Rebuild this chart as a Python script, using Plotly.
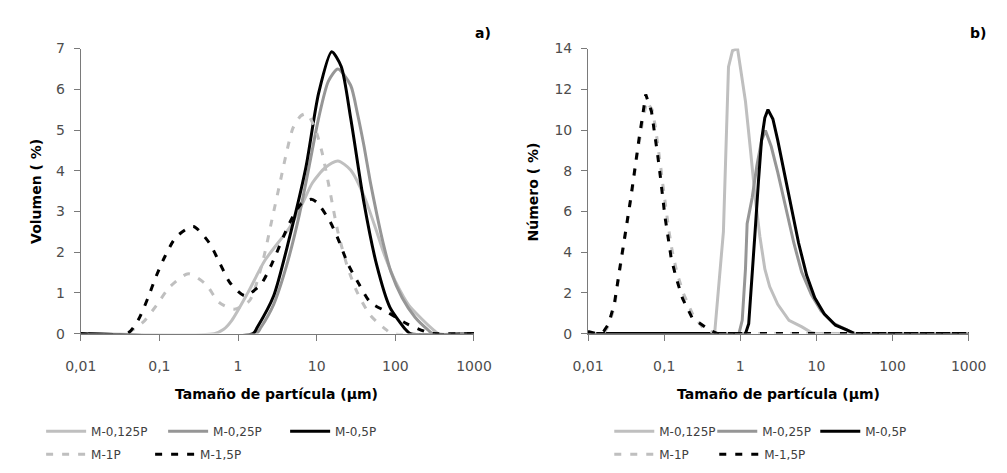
import plotly.graph_objects as go

# ---------------- data: a) volume distribution ----------------
series_names = ["M-0,125P", "M-0,25P", "M-0,5P", "M-1P", "M-1,5P"]

vol_m0125_x = [0.01, 0.5, 0.65, 0.83, 1.33, 2.2, 4.5, 6.6, 8.8, 12.9, 18.6, 27, 40, 58, 70, 85, 102, 148, 217, 302, 350, 1000]
vol_m0125_y = [0, 0, 0.1, 0.32, 1.0, 1.8, 2.6, 3.2, 3.7, 4.08, 4.24, 4.02, 3.38, 2.5, 2.02, 1.6, 1.25, 0.7, 0.36, 0.1, 0, 0]

vol_m025_x = [0.01, 1.7, 1.95, 2.84, 4.14, 6.03, 8.0, 10.6, 14.1, 18.6, 27, 33, 40, 48, 58, 70, 88, 122, 178, 260, 300, 1000]
vol_m025_y = [0, 0, 0.15, 0.72, 1.67, 2.93, 4.1, 5.3, 6.2, 6.5, 6.1, 5.4, 4.6, 3.73, 2.94, 2.22, 1.51, 0.88, 0.4, 0.09, 0, 0]

vol_m05_x = [0.01, 1.55, 1.75, 2.84, 4.5, 7.3, 10.6, 15.5, 20.5, 27, 40, 58, 85, 112, 135, 155, 1000]
vol_m05_y = [0, 0, 0.15, 0.93, 2.35, 4.09, 5.91, 6.92, 6.56, 5.3, 3.2, 1.68, 0.65, 0.3, 0.1, 0, 0]

vol_m1_x = [0.01, 0.037, 0.062, 0.093, 0.136, 0.233, 0.39, 0.57, 0.9, 1.4, 2.04, 2.7, 3.5, 4.14, 5.0, 6.3, 7.5, 9.5, 11.7, 14.8, 18.6, 24.8, 33, 48, 77, 90, 1000]
vol_m1_y = [0, 0, 0.28, 0.71, 1.15, 1.47, 1.21, 0.77, 0.6, 0.81, 1.74, 2.8, 3.8, 4.45, 5.05, 5.35, 5.4, 5.05, 4.45, 3.48, 2.5, 1.62, 1.0, 0.45, 0.09, 0, 0]

vol_m15_x = [0.01, 0.039, 0.054, 0.072, 0.091, 0.118, 0.163, 0.27, 0.43, 0.59, 0.79, 1.22, 1.95, 2.7, 4.5, 6.3, 8.5, 10.1, 14.8, 19.6, 24.8, 34.6, 48, 77, 141, 263, 300, 1000]
vol_m15_y = [0, 0, 0.34, 0.89, 1.41, 1.9, 2.37, 2.63, 2.23, 1.72, 1.25, 0.93, 1.21, 1.72, 2.71, 3.18, 3.3, 3.22, 2.75, 2.23, 1.72, 1.21, 0.77, 0.54, 0.24, 0.02, 0, 0]

# ---------------- data: b) number distribution ----------------
num_m0125_x = [0.01, 0.46, 0.60, 0.70, 0.79, 0.92, 1.01, 1.17, 1.36, 1.57, 1.81, 2.1, 2.43, 3.1, 4.36, 6.45, 8.6, 10, 1000]
num_m0125_y = [0, 0, 5.0, 13.1, 13.9, 14.0, 13.0, 11.4, 9.03, 6.66, 4.76, 3.18, 2.31, 1.44, 0.65, 0.33, 0.05, 0, 0]

num_m025_x = [0.01, 0.96, 1.06, 1.17, 1.23, 1.43, 1.65, 1.91, 2.14, 2.55, 3.1, 3.97, 5.05, 6.4, 8.6, 11.5, 17, 25, 30, 1000]
num_m025_y = [0, 0, 0.65, 3.18, 5.4, 6.66, 8.24, 9.5, 9.98, 9.19, 7.93, 6.18, 4.45, 3.02, 1.91, 1.12, 0.49, 0.18, 0, 0]

num_m05_x = [0.01, 1.17, 1.29, 1.43, 1.57, 1.73, 1.9, 2.1, 2.31, 2.68, 3.1, 3.77, 4.58, 5.83, 7.44, 9.5, 12.7, 17.8, 25, 32, 1000]
num_m05_y = [0, 0, 0.49, 2.71, 5.08, 7.45, 9.5, 10.6, 11.0, 10.54, 9.5, 7.93, 6.35, 4.45, 2.86, 1.76, 0.96, 0.41, 0.18, 0, 0]

num_m1_x = [0.0104, 0.016, 0.0186, 0.0222, 0.0243, 0.0268, 0.0297, 0.0328, 0.0361, 0.0394, 0.0427, 0.047, 0.0519, 0.059, 0.0695, 0.0765, 0.0835, 0.09, 0.097, 0.1045, 0.115, 0.127, 0.147, 0.18, 0.24, 0.33, 0.45, 0.55, 1000]
num_m1_y = [0, 0, 0.4, 1.3, 2.3, 3.3, 4.4, 5.4, 6.4, 7.4, 8.4, 9.4, 10.4, 11.4, 11.0, 10.2, 9.2, 8.2, 7.2, 6.2, 5.1, 4.1, 3.0, 1.95, 0.9, 0.25, 0.05, 0, 0]

num_m15_x = [0.01, 0.013, 0.016, 0.0186, 0.0222, 0.0243, 0.0268, 0.0297, 0.0328, 0.0361, 0.0394, 0.0427, 0.047, 0.0519, 0.0573, 0.0683, 0.0752, 0.082, 0.0887, 0.095, 0.1026, 0.113, 0.124, 0.144, 0.175, 0.234, 0.40, 0.5, 1000]
num_m15_y = [0.1, 0, 0.1, 0.47, 1.47, 2.5, 3.47, 4.52, 5.5, 6.56, 7.56, 8.59, 9.62, 10.65, 11.75, 10.9, 9.9, 8.8, 7.78, 6.76, 5.73, 4.7, 3.68, 2.73, 1.71, 0.76, 0.16, 0, 0]

x_tickvals = [0.01, 0.1, 1, 10, 100, 1000]
x_ticktext = ["0,01", "0,1", "1", "10", "100", "1000"]

# ---------------- styling ----------------
W, H = 1007, 473
FONT = "DejaVu Sans"
styles = {
    "M-0,125P": dict(color="#BFBFBF", dash="solid"),
    "M-0,25P": dict(color="#969696", dash="solid"),
    "M-0,5P": dict(color="#000000", dash="solid"),
    "M-1P": dict(color="#BFBFBF", dash="7px,9px"),
    "M-1,5P": dict(color="#000000", dash="7px,9px"),
}
legend_of = {"M-0,125P": 0, "M-0,25P": 0, "M-0,5P": 0, "M-1P": 1, "M-1,5P": 1}

vol_data = [(vol_m0125_x, vol_m0125_y), (vol_m025_x, vol_m025_y), (vol_m05_x, vol_m05_y),
            (vol_m1_x, vol_m1_y), (vol_m15_x, vol_m15_y)]
num_data = [(num_m0125_x, num_m0125_y), (num_m025_x, num_m025_y), (num_m05_x, num_m05_y),
            (num_m1_x, num_m1_y), (num_m15_x, num_m15_y)]

fig = go.Figure()
legend_ids_a = ["legend", "legend2"]
legend_ids_b = ["legend3", "legend4"]

for name, (xs, ys) in zip(series_names, vol_data):
    st = styles[name]
    fig.add_trace(go.Scatter(
        x=xs, y=ys, mode="lines", name=name, xaxis="x", yaxis="y",
        line=dict(color=st["color"], width=3, dash=st["dash"], shape="spline", smoothing=0.7),
        legend=legend_ids_a[legend_of[name]], hoverinfo="skip"))

for name, (xs, ys) in zip(series_names, num_data):
    st = styles[name]
    fig.add_trace(go.Scatter(
        x=xs, y=ys, mode="lines", name=name, xaxis="x2", yaxis="y2",
        line=dict(color=st["color"], width=3, dash=st["dash"]),
        legend=legend_ids_b[legend_of[name]], hoverinfo="skip"))

axis_line = "#7a7a7a"
tickfont = dict(family=FONT, size=14, color="#4d4d4d")

def xaxis_common(dom, anchor):
    return dict(domain=dom, anchor=anchor, type="log", range=[-2, 3],
                tickvals=x_tickvals, ticktext=x_ticktext, ticks="outside", ticklen=6,
                tickcolor=axis_line, showline=True, linecolor=axis_line, linewidth=1,
                showgrid=False, zeroline=False, tickfont=tickfont, ticklabelstandoff=14)

def yaxis_common(dom, anchor, rng, dt):
    return dict(domain=dom, anchor=anchor, range=rng, dtick=dt, ticks="outside", ticklen=6,
                tickcolor=axis_line, showline=True, linecolor=axis_line, linewidth=1,
                showgrid=False, zeroline=False, tickfont=tickfont, ticklabelstandoff=6)

ydom = [1 - 337 / H, 1 - 42 / H]
legend_common = dict(orientation="h", font=dict(family=FONT, size=12, color="#404040"),
                     bgcolor="rgba(0,0,0,0)", xanchor="left", yanchor="middle",
                     itemwidth=40, itemclick=False, itemdoubleclick=False,
                     entrywidthmode="pixels")

fig.update_layout(
    width=W, height=H, margin=dict(l=0, r=0, t=0, b=0),
    paper_bgcolor="white", plot_bgcolor="white",
    xaxis=xaxis_common([67 / W, 474 / W], "y"),
    yaxis=yaxis_common(ydom, "x", [0, 7], 1),
    xaxis2=xaxis_common([592 / W, 986 / W], "y2"),
    yaxis2=yaxis_common(ydom, "x2", [0, 14], 2),
    legend=dict(legend_common, x=26 / W, y=1 - 438 / H, entrywidth=67),
    legend2=dict(legend_common, x=26 / W, y=1 - 462 / H, entrywidth=54),
    legend3=dict(legend_common, x=614 / W, y=1 - 438 / H, entrywidth=48),
    legend4=dict(legend_common, x=614 / W, y=1 - 462 / H, entrywidth=50),
    showlegend=True,
)

title_font = dict(family=FONT, size=14, color="#000000")
bold = lambda s: "<b>" + s + "</b>"
ann = [
    dict(text=bold("Tamaño de partícula (μm)"), x=270 / W, y=1 - 399 / H),
    dict(text=bold("Tamaño de partícula (μm)"), x=789 / W, y=1 - 399 / H),
    dict(text=bold("Volumen ( %)"), x=20 / W, y=1 - 190 / H, textangle=-90),
    dict(text=bold("Número ( %)"), x=535 / W, y=1 - 190 / H, textangle=-90),
    dict(text=bold("a)"), x=483 / W, y=1 - 26 / H),
    dict(text=bold("b)"), x=996 / W, y=1 - 26 / H),
]
for a in ann:
    fig.add_annotation(xref="paper", yref="paper", showarrow=False, xanchor="center",
                       yanchor="middle", font=title_font, **a)

fig.write_html("out.html")
